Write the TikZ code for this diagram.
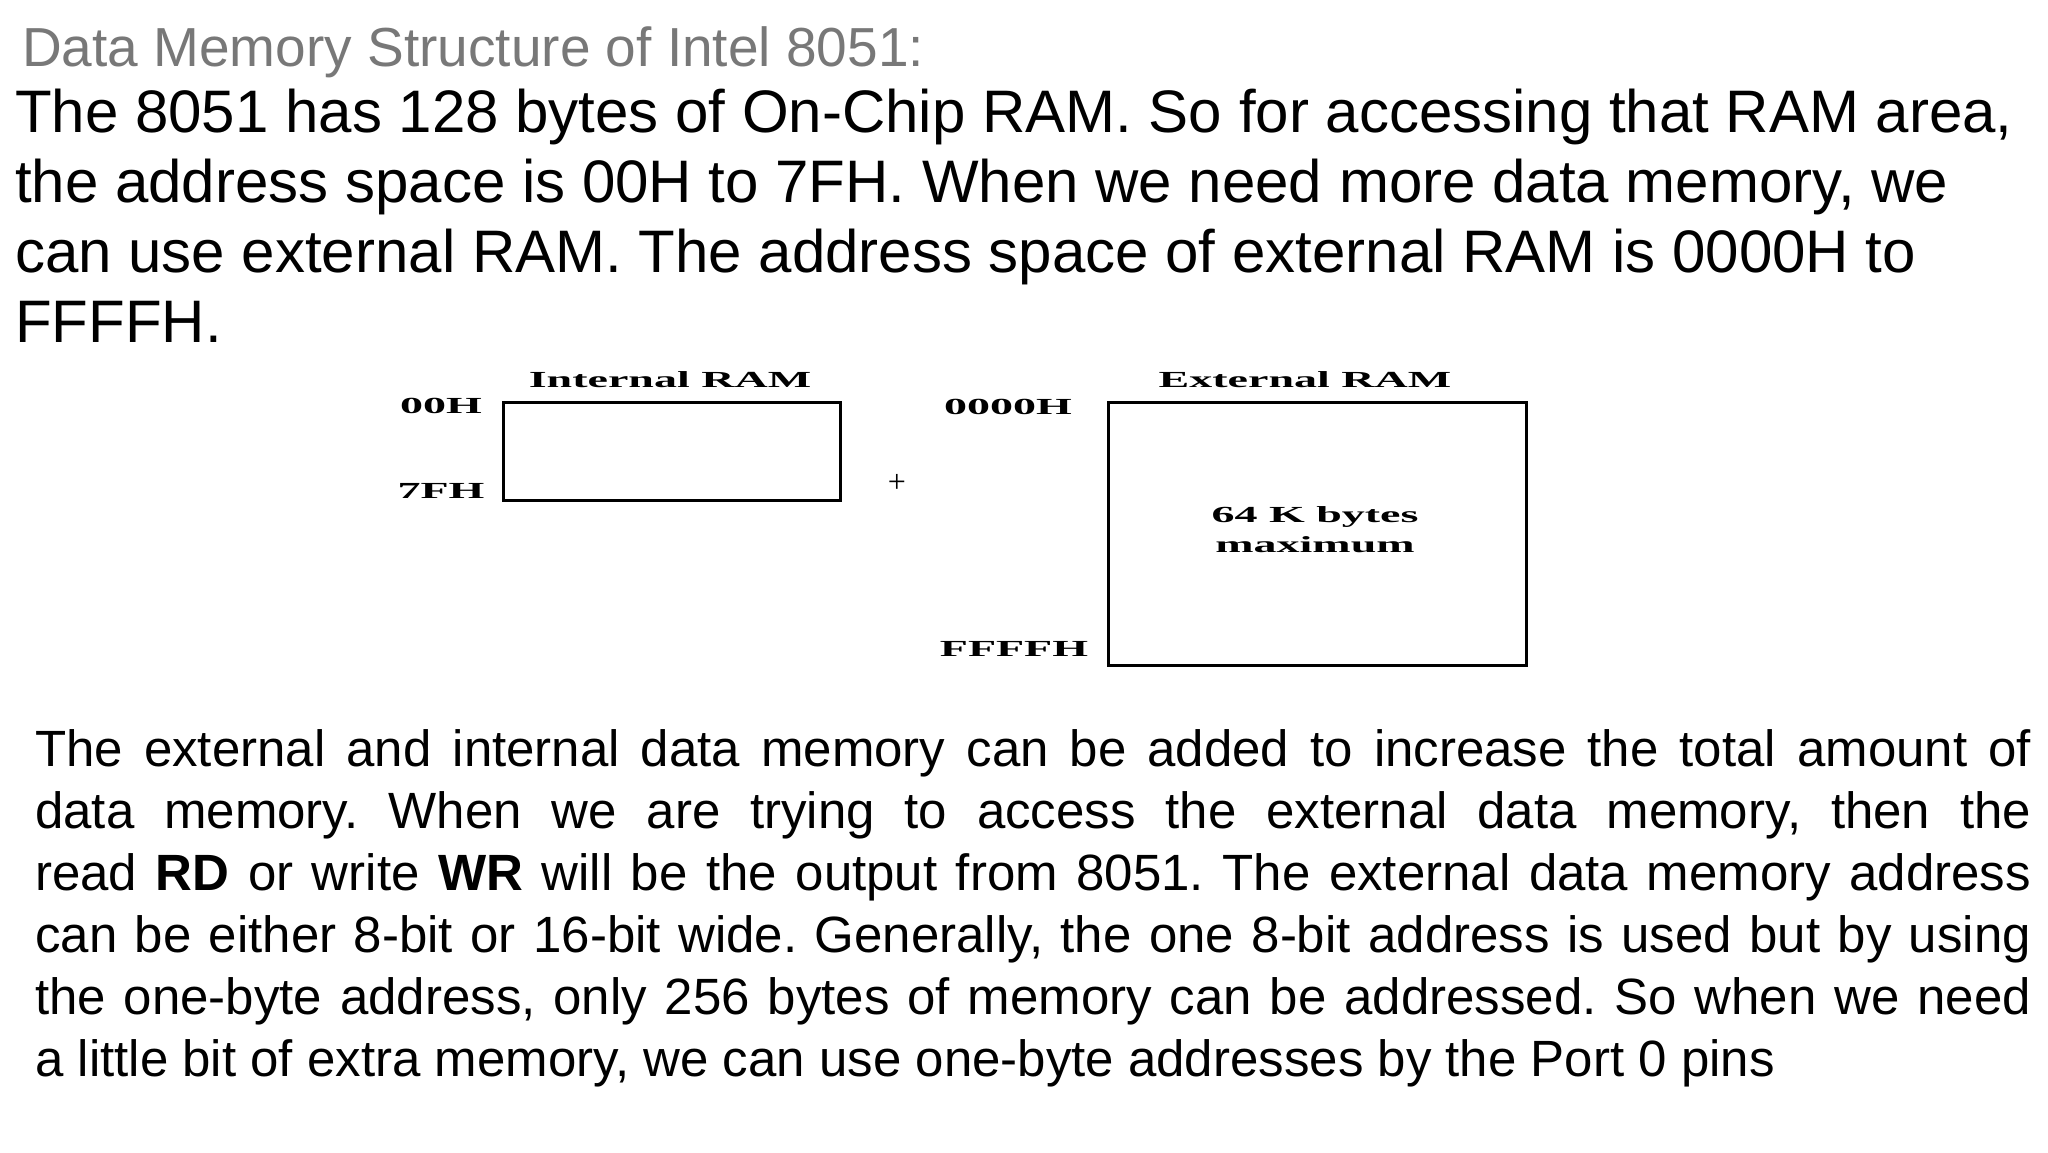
\documentclass[tikz,border=0pt]{standalone}
\usepackage{fontspec}
\setmainfont{Liberation Sans}
\newfontfamily\serifrm{Liberation Serif}
\definecolor{titlegray}{RGB}{120,120,120}
\newcommand{\wide}[1]{\scalebox{2.0}[1]{#1}}
\begin{document}
\frenchspacing
\begin{tikzpicture}[x=1pt,y=-1pt,
  box/.style={draw=black,line width=2.5pt},
  lbl/.style={font=\serifrm\bfseries\fontsize{23}{30}\selectfont,inner sep=0pt}]
\useasboundingbox (0,0) rectangle (2048,1152);
\node[anchor=base west,inner sep=0pt,text=titlegray,font=\fontsize{55}{60}\selectfont] (title) at (22,66) {Data Memory Structure of Intel 8051:};
\node[anchor=north west,inner sep=0pt,align=left,font=\fontsize{60}{70}\selectfont] (intro) at (15,89)
 {\frenchspacing The 8051 has 128 bytes of On-Chip RAM. So for accessing that RAM area,\\
 the address space is 00H to 7FH. When we need more data memory, we\\
 can use external RAM. The address space of external RAM is 0000H to\\
 FFFFH.};
\node[box,minimum width=337pt,minimum height=98pt,anchor=north west,inner sep=0pt] (int) at (502,401) {};
\node[box,minimum width=418pt,minimum height=263pt,anchor=north west,inner sep=0pt] (ext) at (1107,401) {};
\node[lbl] (intl) at (670,380) {\wide{Internal RAM}};
\node[lbl] (extl) at (1305,380) {\wide{External RAM}};
\node[lbl] (a00) at (441,406) {\wide{00H}};
\node[lbl] (a7f) at (441,491) {\wide{7FH}};
\node[inner sep=0pt,font=\serifrm\fontsize{32}{32}\selectfont] (plus) at (897,483) {+};
\node[lbl] (b0) at (1008,407) {\wide{0000H}};
\node[lbl] (bf) at (1014,649) {\wide{FFFFH}};
\node[lbl,align=center] (cap) at (1315,530) {\wide{64 K bytes}\\\wide{maximum}};
\node[anchor=north west,inner sep=0pt,text width=1996pt,align=justify,font=\fontsize{51}{62}\selectfont] (body) at (35,729)
 {\frenchspacing The external and internal data memory can be added to increase the total amount of\linebreak
 data memory. When we are trying to access the external data memory, then the\linebreak
 read \textbf{RD} or write \textbf{WR} will be the output from 8051. The external data memory address\linebreak
 can be either 8-bit or 16-bit wide. Generally, the one 8-bit address is used but by using\linebreak
 the one-byte address, only 256 bytes of memory can be addressed. So when we need\linebreak
 a little bit of extra memory, we can use one-byte addresses by the Port 0 pins};
\end{tikzpicture}
\end{document}
